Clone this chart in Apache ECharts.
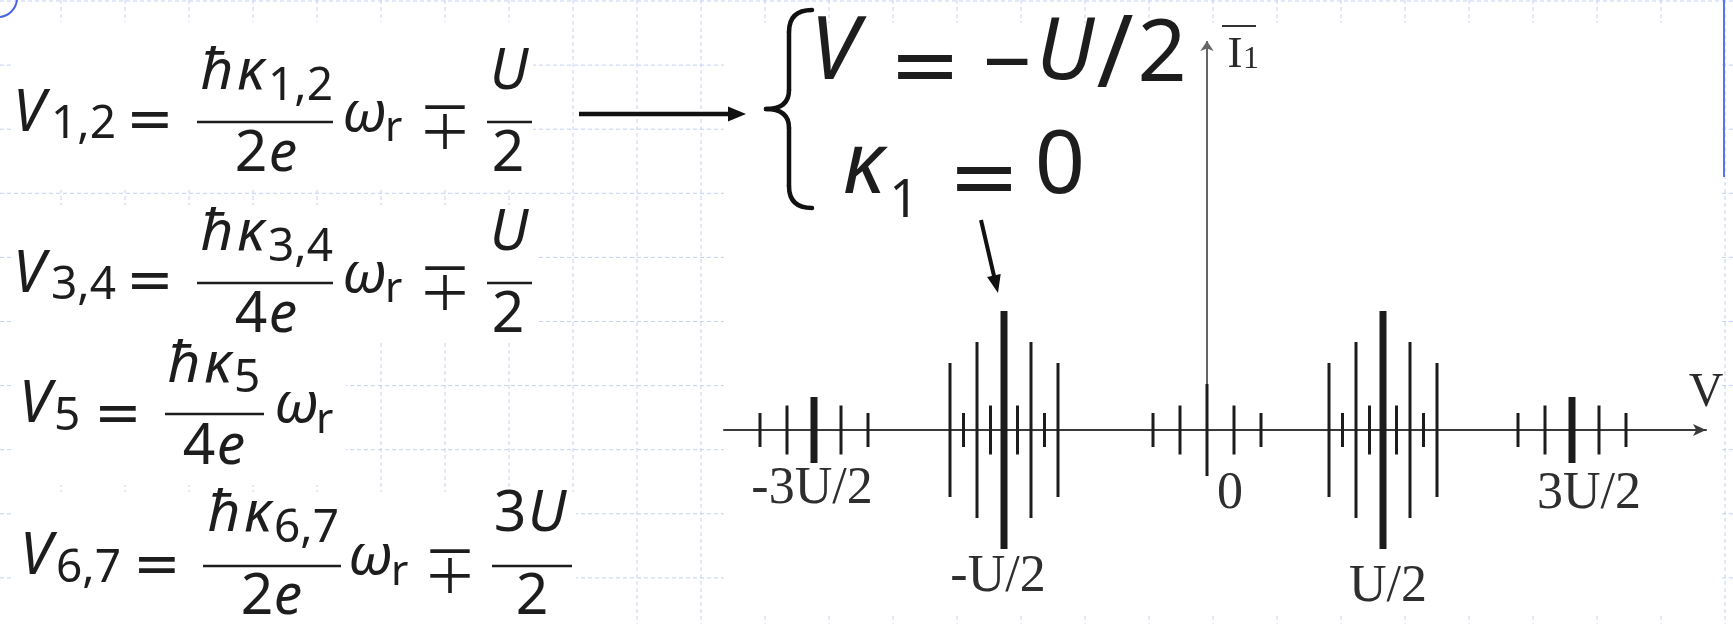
<!DOCTYPE html>
<html>
<head>
<meta charset="utf-8">
<title>Spectrum of peaks</title>
<style>
  html, body { margin: 0; padding: 0; background: #fff; }
  #chart { width: 1733px; height: 624px; }
</style>
<script src="https://cdn.jsdelivr.net/npm/echarts@6/dist/echarts.min.js"></script>
</head>
<body>
<div id="chart"></div>
<script>
// ---- data: peak groups along the V axis (schematic positions, I axis at 0) ----
const groupLabels  = ['-3U/2', '-U/2', '0', 'U/2', '3U/2'];
const groupCenters = [-393, -203, 0, 176, 365];

// five-peak groups (±3U/2 and 0)
const outerOffsets = [-54, -27, 0, 27, 54];
const outerHeights = [17, 24.5, 33, 24.5, 17];
const zeroHeights  = [17, 24.5, 46, 24.5, 17];

// nine-peak groups (±U/2)
const innerOffsets = [-54, -40.5, -27, -13.5, 0, 13.5, 27, 40.5, 54];
const innerHeights = [67, 17, 88, 24.5, 119, 24.5, 88, 17, 67];

const groupOffsets = [outerOffsets, innerOffsets, outerOffsets, innerOffsets, outerOffsets];
const groupHeights = [outerHeights, innerHeights, zeroHeights, innerHeights, outerHeights];

// ---- build peak list: [position, half-height, emphasised] ----
const peaks = [];
groupCenters.forEach((c, g) => {
  groupOffsets[g].forEach((o, i) => {
    peaks.push([c + o, groupHeights[g][i], (o === 0 && groupLabels[g] !== '0') ? 1 : 0]);
  });
});

const chart = echarts.init(document.getElementById('chart'), null, { renderer: 'canvas' });

chart.setOption({
  animation: false,
  backgroundColor: '#ffffff',
  grid: { left: 724, top: 36, width: 982, height: 544, containLabel: false },
  xAxis: {
    type: 'value', min: -483, max: 499,
    axisLine: {
      show: true, onZero: true,
      symbol: ['none', 'arrow'], symbolSize: [9, 13],
      lineStyle: { color: '#3a3a3a', width: 2 }
    },
    axisTick: { show: false }, axisLabel: { show: false }, splitLine: { show: false }
  },
  yAxis: {
    type: 'value', min: -150, max: 394, show: false,
    splitLine: { show: false }
  },
  series: [{
    type: 'custom',
    coordinateSystem: 'cartesian2d',
    encode: { x: 0, y: 1 },
    data: peaks,
    z: 5,
    renderItem: (params, api) => {
      const x = api.value(0), h = api.value(1);
      const top = api.coord([x, h]);
      const bot = api.coord([x, -h]);
      return {
        type: 'line',
        shape: { x1: top[0], y1: top[1], x2: bot[0], y2: bot[1] },
        style: { stroke: '#1c1c1c', lineWidth: api.value(2) ? 7 : 3 }
      };
    },
    markLine: {
      silent: true,
      symbol: ['none', 'arrow'],
      symbolSize: 10,
      label: { show: false },
      lineStyle: { color: '#666', width: 2, type: 'solid' },
      data: [[{ coord: [0, 0] }, { coord: [0, 389] }]]
    }
  }]
});

// ---- decorations, formulas and labels ----
const NOTO = '"Noto Sans", "DejaVu Sans", sans-serif';
const DEJA = '"DejaVu Sans", sans-serif';
const CJK = '"Noto Sans CJK JP", "DejaVu Sans", sans-serif';
const SERIF = '"Liberation Serif", "Times New Roman", serif';
const INK = '#1d1d1d';
const G = [];

// dashed background grid
const gridColor = '#c5d1f4';
for (let k = 0; k <= 26; k++) {
  const x = 61 + 64 * k;
  G.push({ type: 'line', z: -30, silent: true,
    shape: { x1: x, y1: 0, x2: x, y2: 624 },
    style: { stroke: gridColor, lineWidth: 1, lineDash: [4, 3] } });
}
for (let j = 0; j <= 9; j++) {
  const y = 1 + 64.1 * j;
  G.push({ type: 'line', z: -30, silent: true,
    shape: { x1: 0, y1: y, x2: 1733, y2: y },
    style: { stroke: gridColor, lineWidth: 1, lineDash: [4, 3] } });
}
// solid edge line and corner arc
G.push({ type: 'line', z: -25, shape: { x1: 1724, y1: 0, x2: 1724, y2: 177 },
  style: { stroke: '#5a73ee', lineWidth: 2 } });
G.push({ type: 'arc', z: -25, shape: { cx: -2, cy: -2, r: 19, startAngle: 0, endAngle: Math.PI / 2 },
  style: { stroke: '#4a64e6', lineWidth: 2, fill: null } });

// white panels behind formulas and the diagram
[[12, 22, 521, 168], [12, 205, 524, 135], [12, 340, 334, 145], [12, 492, 564, 132],
 [724, 23, 996, 590]].forEach(r => {
  G.push({ type: 'rect', z: -20, silent: true,
    shape: { x: r[0], y: r[1], width: r[2], height: r[3] },
    style: { fill: '#ffffff' } });
});

const kMid = { [NOTO]: 0.388, [DEJA]: 0.346, [SERIF]: 0.3375 };
function txt(s, x, base, size, o = {}) {
  const fam = o.family || NOTO;
  const align = o.align || 'left';
  return { type: 'text', z: 10, x: x, y: base - kMid[fam] * size,
    style: { text: s, font: (o.italic ? 'italic ' : '') + size + 'px ' + fam,
      fill: o.color || INK, align: align, verticalAlign: 'middle',
      textAlign: align, textVerticalAlign: 'middle' } };
}
function op(s, cx, cy, size, fam) {
  return { type: 'text', z: 10, x: cx, y: cy + 1,
    style: { text: s, font: size + 'px ' + (fam || DEJA), fill: INK,
      align: 'center', verticalAlign: 'middle', textAlign: 'center', textVerticalAlign: 'middle' } };
}
function bar(x1, x2, y) {
  G.push({ type: 'line', z: 10, shape: { x1: x1, y1: y, x2: x2, y2: y },
    style: { stroke: INK, lineWidth: 2.6 } });
}

const SUB = 46;
// V_{1,2} and V_{3,4}: fraction rows
function fracRow(dy, sub, denDigit) {
  G.push(txt('V', 13, 137 + dy, 58, { italic: true }));
  G.push(txt(sub, 51, 143 + dy, SUB));
  G.push(op('=', 150, 122 + dy, 57));
  G.push(txt('ħ', 217, 95 + dy, 57, { italic: true, align: 'center' }));
  G.push(txt('κ', 251, 95 + dy, 57, { italic: true, align: 'center' }));
  G.push(txt(sub, 268, 105 + dy, SUB));
  bar(197, 333, 122 + dy);
  G.push(txt(denDigit, 251, 177 + dy, 57, { align: 'center' }));
  G.push(txt('e', 283, 177 + dy, 57, { italic: true, align: 'center' }));
  G.push(txt('ω', 342, 137 + dy, 57, { italic: true }));
  G.push(txt('r', 385, 145 + dy, 42));
  G.push(op('∓', 445, 125 + dy, 54, CJK));
  G.push(txt('U', 509, 95 + dy, 57, { italic: true, align: 'center' }));
  bar(487, 532, 122 + dy);
  G.push(txt('2', 508, 177 + dy, 57, { align: 'center' }));
}
fracRow(0, '1,2', '2');
fracRow(161, '3,4', '4');

// V_5
G.push(txt('V', 19, 428, 58, { italic: true }));
G.push(txt('5', 54, 435, SUB));
G.push(op('=', 118, 416, 57));
G.push(txt('ħ', 184, 388, 57, { italic: true, align: 'center' }));
G.push(txt('κ', 218, 388, 57, { italic: true, align: 'center' }));
G.push(txt('5', 234, 397, SUB));
bar(165, 264, 414);
G.push(txt('4', 199, 470, 57, { align: 'center' }));
G.push(txt('e', 231, 470, 57, { italic: true, align: 'center' }));
G.push(txt('ω', 274, 428, 57, { italic: true }));
G.push(txt('r', 316, 437, 42));

// V_{6,7}
G.push(txt('V', 20, 580, 58, { italic: true }));
G.push(txt('6,7', 56, 587, SUB));
G.push(op('=', 157, 567, 57));
G.push(txt('ħ', 224, 537, 57, { italic: true, align: 'center' }));
G.push(txt('κ', 258, 537, 57, { italic: true, align: 'center' }));
G.push(txt('6,7', 274, 547, SUB));
bar(203, 341, 566);
G.push(txt('2', 257, 620, 57, { align: 'center' }));
G.push(txt('e', 288, 620, 57, { italic: true, align: 'center' }));
G.push(txt('ω', 348, 580, 57, { italic: true }));
G.push(txt('r', 391, 589, 42));
G.push(op('∓', 450, 569, 54, CJK));
G.push(txt('3', 510, 537, 57, { align: 'center' }));
G.push(txt('U', 547, 537, 57, { italic: true, align: 'center' }));
bar(492, 572, 566);
G.push(txt('2', 532, 620, 57, { align: 'center' }));

// arrow to the brace
G.push({ type: 'line', z: 10, shape: { x1: 579, y1: 114, x2: 732, y2: 114 },
  style: { stroke: '#111', lineWidth: 4.5 } });
G.push({ type: 'polygon', z: 10, shape: { points: [[728, 106.5], [746, 114], [728, 121.5]] },
  style: { fill: '#111' } });

// brace
const braceStyle = { stroke: '#111', lineWidth: 4.5, fill: null, lineCap: 'round' };
G.push({ type: 'bezierCurve', z: 10, shape: { x1: 812, y1: 10, x2: 789, y2: 32, cpx1: 789, cpy1: 10 }, style: braceStyle });
G.push({ type: 'line', z: 10, shape: { x1: 789, y1: 32, x2: 789, y2: 90 }, style: braceStyle });
G.push({ type: 'bezierCurve', z: 10, shape: { x1: 789, y1: 90, x2: 766, y2: 109, cpx1: 789, cpy1: 109 }, style: braceStyle });
G.push({ type: 'bezierCurve', z: 10, shape: { x1: 766, y1: 109, x2: 789, y2: 128, cpx1: 789, cpy1: 109 }, style: braceStyle });
G.push({ type: 'line', z: 10, shape: { x1: 789, y1: 128, x2: 789, y2: 186 }, style: braceStyle });
G.push({ type: 'bezierCurve', z: 10, shape: { x1: 789, y1: 186, x2: 812, y2: 208, cpx1: 789, cpy1: 208 }, style: braceStyle });

// V = −U/2
G.push(txt('V', 810, 88, 88, { italic: true }));
G.push(op('=', 925, 71, 86));
G.push(txt('−', 1007, 101, 86, { align: 'center' }));
G.push(txt('U', 1036, 88, 86, { italic: true }));
G.push(txt('/', 1115, 97, 100, { align: 'center' }));
G.push(txt('2', 1162, 90, 86, { align: 'center' }));
// κ1 = 0
G.push(txt('κ', 864, 202, 86, { italic: true, align: 'center' }));
G.push(txt('1', 904, 222, 52, { align: 'center' }));
G.push(op('=', 984, 183, 86));
G.push(txt('0', 1060, 202, 88, { align: 'center' }));

// pointer to the -U/2 group
G.push({ type: 'line', z: 10, shape: { x1: 981, y1: 220, x2: 994, y2: 276 },
  style: { stroke: '#111', lineWidth: 4 } });
G.push({ type: 'polygon', z: 10, shape: { points: [[1000.7, 273.9], [998, 293], [987.1, 277.1]] },
  style: { fill: '#111' } });

// axis names
G.push({ type: 'line', z: 10, shape: { x1: 1222, y1: 26, x2: 1256, y2: 26 },
  style: { stroke: '#333', lineWidth: 2 } });
G.push(txt('I', 1235, 70, 45, { family: SERIF, align: 'center', color: '#2a2a2a' }));
G.push(txt('1', 1243, 70, 32, { family: SERIF, color: '#2a2a2a' }));
G.push(txt('V', 1706, 410, 48, { family: SERIF, align: 'center', color: '#2a2a2a' }));

// group labels under the V axis, anchored to the group centres
const labelDx = [-2, -6, 23, 5, 17];
const labelDy = [77, 165, 82, 175, 82];
groupLabels.forEach((lab, g) => {
  const p = chart.convertToPixel({ gridIndex: 0 }, [groupCenters[g], 0]);
  G.push(txt(lab, p[0] + labelDx[g], p[1] + labelDy[g], 52,
    { family: SERIF, align: 'center', color: '#2e2e2e' }));
});

chart.setOption({ graphic: { elements: G } });
</script>
</body>
</html>
